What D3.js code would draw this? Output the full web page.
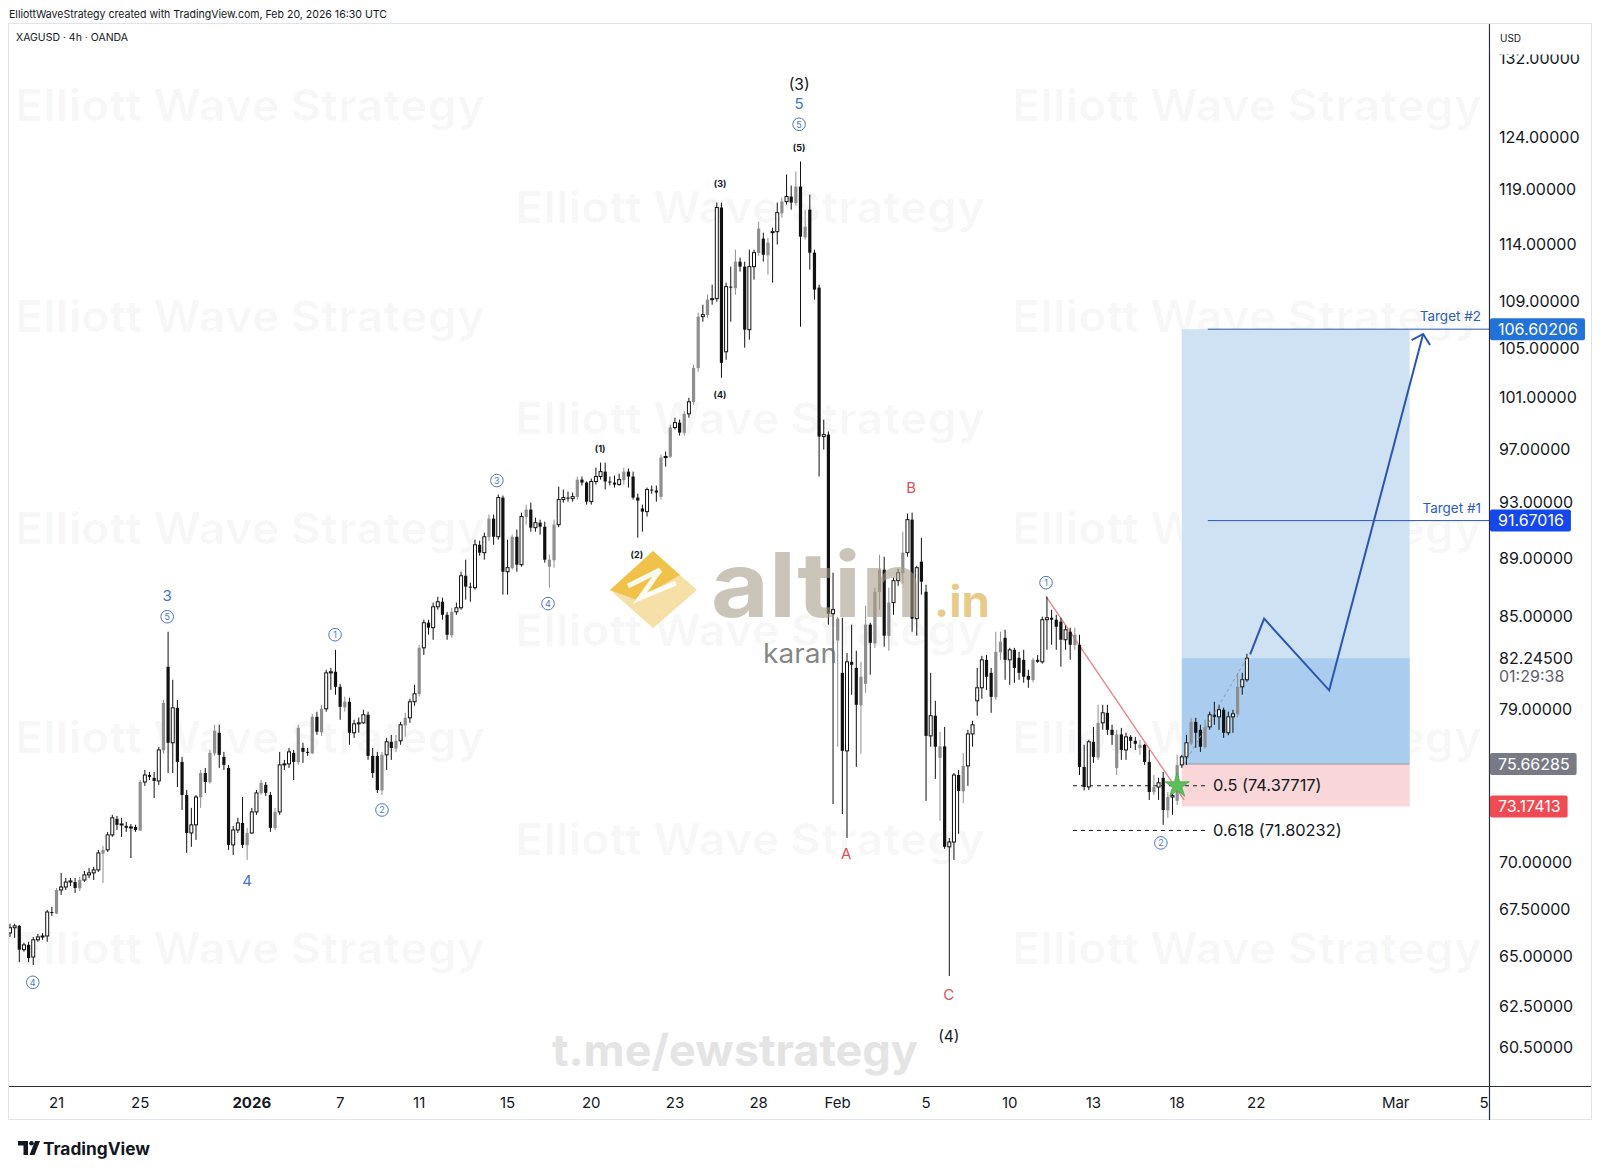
<!DOCTYPE html>
<html><head><meta charset="utf-8">
<script src="https://d3js.org/d3.v7.min.js"></script>
<style>
html,body{margin:0;padding:0;background:#fff;}
svg{display:block;font-family:Inter,"Noto Sans",sans-serif;}
</style></head><body>
<svg id="chart" width="1600" height="1174"></svg>
<script>
// ---------- DATA ----------
const openP = [
66.23,66.50,66.60,65.36,65.61,64.98,65.87,66.02,66.07,67.33,
67.25,68.51,68.67,68.94,68.94,68.60,69.05,69.33,69.44,69.60,
70.50,70.71,71.55,72.46,72.12,72.06,71.95,72.00,71.80,74.60,
75.01,74.84,74.66,76.48,81.69,76.94,79.09,75.79,73.84,71.66,
72.12,73.70,75.13,74.58,76.30,77.55,76.09,75.43,70.99,71.83,
72.23,70.97,71.66,72.86,73.94,74.43,73.84,71.93,72.86,75.61,
75.67,76.33,75.77,76.63,76.39,76.30,78.53,77.58,79.03,81.30,
81.37,80.41,79.12,79.47,77.55,78.10,78.16,78.66,76.15,76.15,
74.10,76.21,77.00,76.60,77.06,78.00,78.47,79.47,79.95,82.92,
84.58,84.25,85.65,85.99,85.11,83.75,85.31,85.58,87.77,87.02,
86.95,89.94,89.38,90.48,91.81,90.51,93.35,88.05,88.30,90.51,
88.54,91.93,92.47,91.16,91.52,91.23,88.40,88.85,91.38,93.20,
93.35,93.27,93.40,94.68,94.46,93.05,94.54,94.91,95.28,94.54,
94.46,94.31,94.65,95.28,94.91,93.35,92.55,92.32,93.94,93.87,
93.40,96.34,96.40,98.65,99.03,98.24,99.72,100.65,103.38,107.66,
107.80,109.11,109.20,117.33,104.72,110.24,110.10,112.43,111.99,106.56,
111.99,113.20,114.49,113.00,115.03,115.12,116.80,117.88,118.35,117.75,
119.29,114.60,117.14,113.23,110.15,97.95,98.10,85.18,83.40,81.30,
76.45,82.01,81.62,79.25,80.60,84.45,83.20,86.65,88.19,83.70,
85.93,87.43,87.95,89.38,91.74,84.85,88.75,86.67,77.36,78.60,
76.03,76.72,70.88,71.15,75.01,74.05,75.55,77.48,79.53,80.35,
82.14,81.30,79.75,82.62,83.58,82.14,82.79,82.27,82.14,81.11,
80.84,82.14,82.01,84.78,84.91,84.78,84.65,83.45,83.98,83.10,
83.12,75.49,74.31,77.00,76.05,78.16,78.78,77.73,75.43,77.45,
76.51,77.30,77.06,76.63,76.82,75.79,74.00,74.30,74.84,72.95,
73.72,73.50,75.61,76.09,76.90,78.22,77.73,76.68,77.91,78.66,
78.53,78.97,77.55,78.53,78.70,80.41,80.86];
const highP = [
66.71,66.71,66.65,65.72,65.77,66.02,66.18,66.23,67.44,67.60,
68.62,69.44,69.16,69.16,69.16,69.22,69.55,69.71,69.77,70.71,
70.93,71.72,72.69,72.63,72.52,72.29,72.17,72.12,74.72,75.31,
75.19,75.19,76.69,79.59,83.98,80.86,79.59,76.09,74.13,73.09,
73.84,75.31,75.43,76.51,78.04,78.04,76.39,75.61,72.06,72.52,
73.72,71.95,73.09,74.13,74.72,74.60,74.01,73.09,76.39,75.91,
76.63,76.51,78.04,76.94,76.63,78.72,78.85,79.28,81.50,81.62,
82.79,80.60,79.78,79.72,78.35,78.48,78.97,78.85,76.63,76.39,
76.39,77.24,77.42,77.42,78.22,78.78,79.66,80.54,83.12,84.78,
84.78,85.93,86.33,86.27,85.31,85.58,85.93,88.05,88.89,87.29,
90.30,90.23,90.80,92.10,92.10,93.57,93.50,90.30,90.66,91.02,
92.25,92.83,92.98,91.88,91.74,91.59,89.24,91.74,94.16,93.94,
93.79,93.72,94.91,94.91,94.54,94.76,95.58,95.96,95.96,94.91,
94.98,95.13,95.58,95.51,95.28,93.64,92.83,94.09,94.24,94.24,
96.57,96.80,98.88,99.42,99.27,99.95,100.99,103.65,107.99,108.68,
109.54,110.41,117.79,117.79,110.59,111.99,113.50,112.79,112.43,113.50,
113.50,116.04,115.03,114.58,115.49,117.79,118.26,120.42,119.38,120.71,
121.67,117.14,118.54,113.50,110.41,99.27,98.34,87.98,84.98,84.91,
82.59,84.45,82.73,82.01,85.72,84.58,86.95,89.24,89.10,86.95,
87.64,88.26,90.87,92.18,92.25,88.47,90.44,87.15,81.30,79.53,
77.61,77.91,71.38,75.13,75.31,76.33,77.73,78.29,81.62,82.40,
82.46,81.62,83.98,83.98,84.11,82.92,82.92,82.66,82.79,81.50,
82.27,82.46,84.98,86.33,85.45,85.11,84.91,84.38,84.25,84.25,
83.78,76.82,77.12,77.91,79.28,79.28,79.28,78.04,77.73,77.85,
77.55,77.40,77.30,77.12,76.88,76.51,75.01,74.85,75.19,74.01,
74.00,76.21,76.21,77.42,78.47,78.47,78.04,78.35,78.85,79.47,
79.28,79.10,78.85,78.97,81.30,81.30,82.53];
const lowP = [
66.02,65.97,64.72,65.26,64.72,64.57,65.77,65.87,65.77,67.12,
67.22,68.24,68.51,68.72,68.35,68.45,68.95,69.16,69.05,69.49,
68.89,70.60,71.44,71.83,71.44,71.72,70.26,71.72,71.78,74.37,
74.72,73.66,74.43,76.27,75.13,75.13,74.31,72.97,70.54,70.88,
71.27,73.09,73.96,74.50,76.15,75.43,75.31,70.71,70.43,71.66,
70.82,70.15,71.61,72.69,73.84,73.78,71.72,71.83,72.69,75.31,
75.43,74.72,75.61,75.73,76.15,76.25,77.42,77.36,78.85,80.22,
79.91,78.35,78.85,76.82,77.24,77.55,78.10,75.91,74.84,73.96,
73.84,75.31,75.91,76.39,76.82,77.30,78.16,79.22,79.80,82.46,
83.78,83.45,85.45,84.78,83.45,83.58,85.11,85.45,86.13,85.99,
86.81,89.17,88.89,90.20,89.94,90.30,86.47,86.47,88.19,88.05,
88.40,91.38,90.87,90.87,90.66,88.68,86.95,88.33,91.20,92.98,
93.05,93.05,93.20,94.24,92.83,92.83,94.31,94.68,93.94,94.24,
94.09,94.24,94.31,94.09,93.20,90.44,90.87,91.96,93.64,93.05,
93.20,95.66,96.30,98.49,98.03,98.03,99.42,100.43,103.08,107.23,
107.57,108.68,108.94,102.59,104.06,107.23,109.54,111.55,105.06,105.72,
110.85,112.96,112.43,111.29,110.59,113.96,116.40,117.60,117.14,117.51,
106.81,114.40,111.73,109.11,94.91,96.95,84.45,73.31,76.70,72.74,
71.38,79.91,75.49,76.27,80.03,81.18,82.92,85.45,82.99,82.73,
85.11,87.08,87.22,89.10,83.98,83.72,86.47,73.49,76.70,74.78,
72.35,70.77,64.02,70.15,71.61,73.37,74.37,76.70,78.60,79.66,
80.22,78.78,79.59,82.14,80.86,80.54,80.67,80.86,80.67,80.35,
80.70,81.95,81.90,82.79,83.12,82.79,81.69,82.79,82.14,82.79,
75.01,74.10,74.13,75.73,75.91,77.73,77.42,76.82,75.01,75.91,
75.91,76.63,76.51,76.21,75.61,73.55,73.84,73.55,72.12,72.52,
72.69,73.26,75.43,75.61,76.80,76.63,76.39,76.60,77.73,78.04,
77.73,77.24,77.40,77.55,78.50,79.91,80.73];
const closeP = [
66.50,66.60,65.36,65.61,64.93,65.87,66.02,66.07,67.33,67.28,
68.51,68.67,68.94,69.00,68.62,69.05,69.33,69.44,69.60,70.54,
70.71,71.55,72.52,72.12,72.17,71.95,72.00,71.83,74.60,75.01,
74.90,74.66,76.51,79.40,76.94,79.09,75.79,73.84,71.66,72.12,
73.72,75.13,74.60,76.33,77.67,76.21,75.61,70.99,71.83,72.23,
70.99,71.66,72.86,73.96,74.55,73.96,71.95,72.86,75.61,75.67,
76.39,75.79,77.85,76.39,76.33,78.53,77.61,79.03,81.30,81.37,
80.41,79.15,79.47,77.55,78.10,78.16,78.66,76.15,75.13,74.13,
76.21,77.00,76.63,77.06,78.04,78.47,79.47,79.97,82.92,84.58,
84.25,85.65,85.99,85.11,83.78,85.31,85.58,87.77,87.02,86.95,
89.94,89.38,90.51,91.81,90.51,93.35,88.05,88.33,90.51,88.54,
91.96,92.47,91.16,91.52,91.23,88.89,88.89,91.38,93.20,93.35,
93.27,93.42,94.68,94.46,93.05,94.54,94.91,95.28,94.54,94.46,
94.31,94.68,95.28,94.91,93.35,93.13,92.32,93.94,93.87,93.72,
96.34,96.42,98.65,99.03,98.26,99.72,100.67,103.40,107.66,107.83,
109.11,109.20,117.33,103.81,110.24,110.15,112.43,111.99,106.56,111.99,
113.23,115.40,113.05,114.13,115.12,116.86,117.88,118.35,117.79,119.29,
114.67,115.58,113.23,109.98,97.95,98.10,85.18,85.45,84.85,76.45,
82.01,81.82,79.28,81.05,84.45,83.25,86.67,88.19,83.72,85.93,
87.43,87.98,89.38,91.74,84.85,88.33,87.36,77.36,78.60,76.70,
76.72,70.88,71.15,75.01,74.07,75.55,77.48,78.04,80.35,82.14,
81.05,79.78,82.66,83.32,82.14,82.79,81.62,81.30,81.05,80.86,
82.14,82.01,84.78,84.91,84.78,84.31,83.45,84.11,83.12,83.78,
75.49,74.31,77.00,76.09,78.16,78.78,77.73,77.42,77.45,76.51,
77.30,77.06,76.88,76.82,75.79,74.01,74.30,74.55,72.97,73.72,
73.80,75.61,76.09,76.94,78.22,77.55,76.70,77.91,78.66,78.53,
78.97,77.55,78.53,78.72,80.41,80.86,82.245];

const timeTickIdx = [10,28,52,71,88,107,125,143,161,178,197,215,233,251,268,298,317];
const timeTickLabels = ["21","25","2026","7","11","15","20","23","28","Feb","5","10","13","18","22","Mar","5"];
const priceTicks = [132,124,119,114,109,105,101,97,93,89,85,79,70,67.5,65,62.5,60.5];

const target1 = 91.67016, target2 = 106.60206, entryPrice = 75.66285, stopPrice = 73.17413, lastPrice = 82.245;
const countdown = "01:29:38";
const positionIdx = [252, 301];
const targetStartIdx = 257.6;
const fibRatios = ["0.5","0.618"];
const fibValues = [74.37717, 71.80232];
const fibIdx = [228.6, 257];
const trendIdx = [222.8, 252.5];
const trendVal = [86.35, 73.55];
const projIdx = [266.7, 269.7, 283.7, 303.9];
const projVal = [82.5, 84.85, 80.19, 106.2];
const starIdx = 251, starVal = 74.37717;

const labelText = ["4","3","5","4","1","2","3","4","(1)","(2)","(3)","(4)","(5)","5","5","(3)","A","B","C","(4)","1","2"];
const labelKind = ["circ","blue","circ","blue","circ","circ","circ","circ","small","small","small","small","small","circ","blue","big","red","red","red","big","circ","circ"];
const labelIdx = [4.9,33.8,33.8,51.0,69.9,80.0,104.7,115.7,126.9,134.8,152.7,152.7,169.7,169.7,169.7,169.7,179.8,193.8,201.9,201.9,222.8,247.5];
const labelVal = [63.70,86.40,84.98,69.05,83.78,72.97,94.61,85.86,97.0,89.24,119.57,101.22,122.99,125.29,127.33,129.26,70.49,94.13,63.10,61.04,87.29,71.10];

// ---------- SCALES ----------
const PL = 9, PR = 1489, PT = 24, PB = 1086;
const x = d3.scaleLinear().domain([0, 318]).range([10, 1488.7]);
const y = d3.scaleLog().domain([58.7, 135.6]).range([PB, PT]);

const svg = d3.select("#chart");
svg.append("rect").attr("width",1600).attr("height",1174).attr("fill","#fff");

// header
svg.append("text").attr("x",9).attr("y",17.5).attr("font-size",11).attr("fill","#131722")
  .attr("textLength",378).attr("lengthAdjust","spacingAndGlyphs")
  .text("ElliottWaveStrategy created with TradingView.com, Feb 20, 2026 16:30 UTC");

// frame
svg.append("rect").attr("x",8.5).attr("y",23.5).attr("width",1583).attr("height",1096)
  .attr("fill","none").attr("stroke","#e0e3eb");

svg.append("defs").append("clipPath").attr("id","plotclip").append("rect")
  .attr("x",PL).attr("y",PT).attr("width",PR-PL).attr("height",PB-PT);

const plot = svg.append("g").attr("clip-path","url(#plotclip)");

// faint watermarks
const wmCols = [[250,[105,316,528,737,948]],[750,[207,418,630,839]],[1247,[105,316,528,737,948]]];
wmCols.forEach(([cx,rows])=>rows.forEach(cy=>{
  plot.append("text").attr("x",cx-235).attr("y",cy+16).attr("font-size",44).attr("font-weight",700)
   .attr("fill","#000").attr("fill-opacity",0.026).attr("textLength",470).attr("lengthAdjust","spacingAndGlyphs")
   .text("Elliott Wave Strategy");
}));
plot.append("text").attr("x",552).attr("y",1066).attr("font-size",44).attr("font-weight",700)
  .attr("fill","#e4e4e4").attr("textLength",366).attr("lengthAdjust","spacingAndGlyphs").text("t.me/ewstrategy");

// position tool
const px0 = x(positionIdx[0]), px1 = x(positionIdx[1]);
plot.append("rect").attr("x",px0).attr("width",px1-px0).attr("y",y(target2)).attr("height",y(entryPrice)-y(target2)).attr("fill","#cfe2f4");
plot.append("rect").attr("x",px0).attr("width",px1-px0).attr("y",y(lastPrice)).attr("height",y(entryPrice)-y(lastPrice)).attr("fill","#aacdef");
plot.append("rect").attr("x",px0).attr("width",px1-px0).attr("y",y(entryPrice)).attr("height",y(stopPrice)-y(entryPrice)).attr("fill","#f9d6d8");
plot.append("line").attr("x1",px0).attr("x2",px1).attr("y1",y(entryPrice)).attr("y2",y(entryPrice)).attr("stroke","#9598a1").attr("stroke-width",1);

// fib levels
fibValues.forEach((v,k)=>{
  plot.append("line").attr("x1",x(fibIdx[0])).attr("x2",x(fibIdx[1])).attr("y1",y(v)).attr("y2",y(v))
    .attr("stroke","#131722").attr("stroke-width",1).attr("stroke-dasharray","4,4");
  plot.append("text").attr("x",x(fibIdx[1])+8).attr("y",y(v)+5.5).attr("font-size",16.4).attr("fill","#131722")
    .text(`${fibRatios[k]} (${v.toFixed(5)})`);
});

// trendline
plot.append("line").attr("x1",x(trendIdx[0])).attr("y1",y(trendVal[0])).attr("x2",x(trendIdx[1])).attr("y2",y(trendVal[1]))
  .attr("stroke","#e8868c").attr("stroke-width",1.4);

// candles
const bars = openP.map((o,i)=>{
  const c = closeP[i], up = c >= o;
  const kind = !up ? "down" : (i>0 && o < closeP[i-1] ? "gray" : "hollow");
  return {i,o,h:highP[i],l:lowP[i],c,kind};
});
const colorOf = k => k==="gray" ? "#8e8e8e" : "#111";
const cg = plot.append("g");
cg.selectAll("line.w").data(bars).join("line")
  .attr("x1",d=>x(d.i)).attr("x2",d=>x(d.i)).attr("y1",d=>y(d.h)).attr("y2",d=>y(d.l))
  .attr("stroke",d=>colorOf(d.kind)).attr("stroke-width",1);
cg.selectAll("rect.b").data(bars).join("rect")
  .attr("x",d=>x(d.i)-(d.kind==="hollow"?1.5:1.6))
  .attr("width",d=>d.kind==="hollow"?3:3.2)
  .attr("y",d=>y(Math.max(d.o,d.c)))
  .attr("height",d=>Math.max(1,Math.abs(y(d.o)-y(d.c))))
  .attr("fill",d=>d.kind==="hollow"?"#fff":colorOf(d.kind))
  .attr("stroke",d=>d.kind==="hollow"?"#111":"none")
  .attr("stroke-width",1);

// dashed entry->current
plot.append("line").attr("x1",x(252.5)).attr("y1",y(entryPrice)).attr("x2",x(266)).attr("y2",y(lastPrice))
  .attr("stroke","#9598a1").attr("stroke-width",1).attr("stroke-dasharray","3,3");

// star
plot.append("path").attr("d",d3.symbol().type(d3.symbolStar).size(190)())
  .attr("transform",`translate(${x(starIdx)},${y(starVal)})`)
  .attr("fill","#5cbf5a").attr("stroke","#3f9d3f").attr("stroke-width",0.6);

// targets
[[target2,"Target #2"],[target1,"Target #1"]].forEach(([v,t])=>{
  plot.append("line").attr("x1",x(targetStartIdx)).attr("x2",PR).attr("y1",y(v)).attr("y2",y(v))
    .attr("stroke","#2b56a6").attr("stroke-width",1);
  plot.append("text").attr("x",1481).attr("y",y(v)-8).attr("text-anchor","end").attr("font-size",13.5)
    .attr("fill","#2c5cb8").text(t);
});

// projection path + arrow
const projPts = projIdx.map((d,k)=>[x(d), y(projVal[k])]);
plot.append("path").attr("d",d3.line()(projPts)).attr("fill","none").attr("stroke","#2a54b4").attr("stroke-width",2).attr("stroke-linejoin","miter");
{
  const [ax,ay] = projPts[projPts.length-1], [bx,by] = projPts[projPts.length-2];
  const ang = Math.atan2(by-ay, bx-ax), L = 13, spread = 0.82;
  const w1 = [ax+L*Math.cos(ang+spread), ay+L*Math.sin(ang+spread)];
  const w2 = [ax+L*Math.cos(ang-spread), ay+L*Math.sin(ang-spread)];
  plot.append("path").attr("d",`M${w1[0]},${w1[1]}L${ax},${ay}L${w2[0]},${w2[1]}`)
    .attr("fill","none").attr("stroke","#2a54b4").attr("stroke-width",2);
}

// wave labels
const lg = plot.append("g");
labelText.forEach((t,k)=>{
  const cx = x(labelIdx[k]), cy = y(labelVal[k]), kind = labelKind[k];
  if(kind==="circ"){
    lg.append("circle").attr("cx",cx).attr("cy",cy).attr("r",6.3).attr("fill","#fff").attr("stroke","#4a76c6").attr("stroke-width",1);
    lg.append("text").attr("x",cx).attr("y",cy+3.2).attr("text-anchor","middle").attr("font-size",9).attr("fill","#4a76c6").text(t);
  } else if(kind==="blue"){
    lg.append("text").attr("x",cx).attr("y",cy+5.5).attr("text-anchor","middle").attr("font-size",15).attr("fill","#4472c4").text(t);
  } else if(kind==="red"){
    lg.append("text").attr("x",cx).attr("y",cy+5.5).attr("text-anchor","middle").attr("font-size",15).attr("fill","#d9505c").text(t);
  } else if(kind==="big"){
    lg.append("text").attr("x",cx).attr("y",cy+5.5).attr("text-anchor","middle").attr("font-size",15.5).attr("fill","#131722").text(t);
  } else {
    lg.append("text").attr("x",cx).attr("y",cy+3.2).attr("text-anchor","middle").attr("font-size",9).attr("font-weight",700).attr("fill","#131722").text(t);
  }
});

// altin.in watermark (semi-transparent overlay)
const wm = plot.append("g");
wm.append("polygon").attr("points","653,551 697,590 653,628 610,590").attr("fill","#f3d58a").attr("fill-opacity",0.75);
wm.append("polygon").attr("points","653,551 680,575 637,600 610,590").attr("fill","#efba33").attr("fill-opacity",0.8);
wm.append("polyline").attr("points","628,586 660,570 640,598 676,583").attr("fill","none").attr("stroke","#fff").attr("stroke-width",5).attr("stroke-opacity",0.9);
wm.append("text").attr("x",711).attr("y",617).attr("font-size",90).attr("font-weight",700)
  .attr("fill","#a79d8a").attr("fill-opacity",0.6).attr("textLength",212).attr("lengthAdjust","spacingAndGlyphs").text("altin");
wm.append("text").attr("x",934).attr("y",617).attr("font-size",44).attr("font-weight",700)
  .attr("fill","#d9a93c").attr("fill-opacity",0.6).attr("textLength",56).attr("lengthAdjust","spacingAndGlyphs").text(".in");
wm.append("text").attr("x",763).attr("y",663).attr("font-size",27)
  .attr("fill","#6f6f6f").attr("fill-opacity",0.85).attr("textLength",74).attr("lengthAdjust","spacingAndGlyphs").text("karan");

// symbol title
svg.append("text").attr("x",16).attr("y",41).attr("font-size",10.5).attr("fill","#131722")
  .attr("textLength",112).attr("lengthAdjust","spacingAndGlyphs").text("XAGUSD · 4h · OANDA");

// ---------- AXES ----------
svg.append("line").attr("x1",PL).attr("x2",1591).attr("y1",PB+0.5).attr("y2",PB+0.5).attr("stroke","#2a2e39").attr("stroke-width",1.2);
svg.append("line").attr("x1",PR+0.5).attr("x2",PR+0.5).attr("y1",PT).attr("y2",1120).attr("stroke","#2a2e39").attr("stroke-width",1.2);

const fmt = d3.format(".5f");
const pax = svg.append("g");
priceTicks.forEach(v=>{
  pax.append("text").attr("x",1499).attr("y",y(v)+5.7).attr("font-size",16).attr("fill","#131722").text(fmt(v));
});
// top cover + currency
svg.append("rect").attr("x",PR+1.5).attr("y",PT+0.5).attr("width",100).attr("height",30).attr("fill","#fff");
svg.append("text").attr("x",1500).attr("y",42).attr("font-size",10).attr("fill","#131722").text("USD");

// current price + countdown
pax.append("text").attr("x",1499).attr("y",y(lastPrice)+5.7).attr("font-size",16).attr("fill","#131722").text(fmt(lastPrice));
pax.append("text").attr("x",1499).attr("y",y(lastPrice)+24).attr("font-size",16).attr("fill","#5d606b").text(countdown);

// badges
[[target2,"#2272d9"],[target1,"#1448ee"],[entryPrice,"#787b86"],[stopPrice,"#f04a52"]].forEach(([v,col])=>{
  const g = pax.append("g");
  const t = g.append("text").attr("x",1498).attr("y",y(v)+5.7).attr("font-size",16).attr("fill","#fff").text(fmt(v));
  const w = t.node().getComputedTextLength();
  g.insert("rect","text").attr("x",PR+1).attr("y",y(v)-11).attr("width",w+15).attr("height",22).attr("rx",2).attr("fill",col);
});

// time axis
const tax = svg.append("g");
timeTickIdx.forEach((d,k)=>{
  tax.append("text").attr("x",x(d)).attr("y",1108).attr("text-anchor","middle").attr("font-size",15)
    .attr("font-weight",timeTickLabels[k]==="2026"?700:400).attr("fill","#131722").text(timeTickLabels[k]);
});

// TradingView logo
const tv = svg.append("g").attr("fill","#131722");
tv.append("rect").attr("x",18).attr("y",1141).attr("width",10).attr("height",4.5);
tv.append("rect").attr("x",23.5).attr("y",1141).attr("width",4.5).attr("height",14);
tv.append("circle").attr("cx",31.5).attr("cy",1143.3).attr("r",2.3);
tv.append("polygon").attr("points","29.5,1155 35,1141 40,1141 34.5,1155");
svg.append("text").attr("x",43).attr("y",1154.5).attr("font-size",17).attr("font-weight",700).attr("fill","#131722")
  .attr("textLength",107).attr("lengthAdjust","spacingAndGlyphs").text("TradingView");
</script>
</body></html>
